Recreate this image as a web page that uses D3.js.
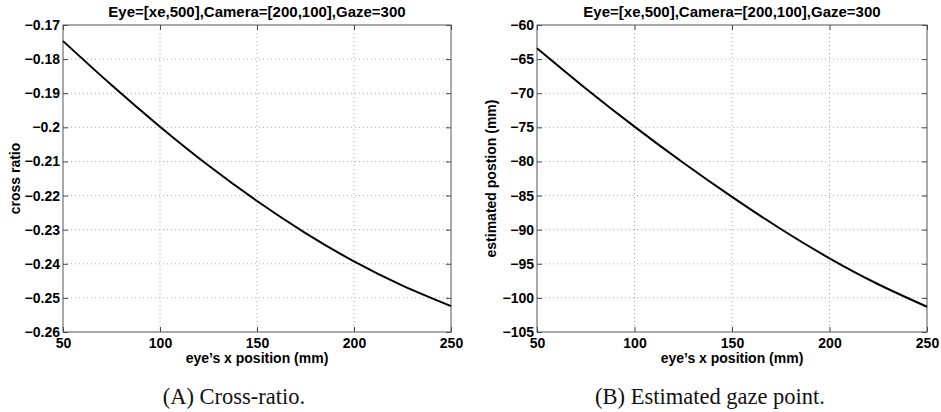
<!DOCTYPE html>
<html>
<head>
<meta charset="utf-8">
<script src="https://cdn.jsdelivr.net/npm/d3@7"></script>
<style>
  body { margin: 0; background: #fff; }
</style>
</head>
<body>
<script>
const width = 941;
const height = 412;

// eye's x position (mm)
const eyeX = [50, 75, 100, 125, 150, 175, 200, 225, 250];
// panel A: cross ratio
const crossRatio = [-0.1747, -0.1876, -0.1998, -0.2112, -0.2216, -0.2310, -0.2393, -0.2464, -0.2524];
// panel B: estimated position (mm)
const gazeEstimate = [-63.4, -69.3, -74.9, -80.2, -85.2, -89.9, -94.2, -98.0, -101.3];

const xTicks = [50, 100, 150, 200, 250];
const crossTicks = [-0.17, -0.18, -0.19, -0.2, -0.21, -0.22, -0.23, -0.24, -0.25, -0.26];
const gazeTicks = [-60, -65, -70, -75, -80, -85, -90, -95, -100, -105];

const title = "Eye=[xe,500],Camera=[200,100],Gaze=300";

const sans = "'Liberation Sans', Arial, Helvetica, sans-serif";
const serif = "'Liberation Serif', 'Times New Roman', serif";

const svg = d3.select("body").append("svg")
  .attr("width", width)
  .attr("height", height);

const fmtMinus = s => s.replace("-", "\u2212");

// bold label text, MATLAB-ish
const boldText = (s, size) => s
  .style("font-family", sans)
  .style("font-size", size + "px")
  .style("font-weight", "bold")
  .attr("fill", "#000");

function drawPanel(opts) {
  const { left, right, top, bottom, yDomain, yTicks, yFormat, values, yLabel, yLabelX, caption, captionX } = opts;

  const x = d3.scaleLinear().domain([50, 250]).range([left, right]);
  const y = d3.scaleLinear().domain(yDomain).range([bottom, top]);

  const g = svg.append("g");

  // dotted grid
  g.append("g").selectAll("line")
    .data(xTicks.slice(1, -1))
    .join("line")
    .attr("x1", d => x(d)).attr("x2", d => x(d))
    .attr("y1", top).attr("y2", bottom)
    .attr("stroke", "#aaa").attr("stroke-width", 1)
    .attr("stroke-dasharray", "1,3");
  g.append("g").selectAll("line")
    .data(yTicks.slice(1, -1))
    .join("line")
    .attr("x1", left).attr("x2", right)
    .attr("y1", d => y(d)).attr("y2", d => y(d))
    .attr("stroke", "#aaa").attr("stroke-width", 1)
    .attr("stroke-dasharray", "1,3");

  // axes: ticks pointing inward
  const axisStyle = a => a.call(s => s.select(".domain").remove())
    .call(s => s.selectAll("line").attr("stroke", "#444"));

  g.append("g").attr("transform", `translate(${left},0)`)
    .call(d3.axisLeft(y).tickValues(yTicks).tickSize(-5).tickFormat(d => fmtMinus(yFormat(d))))
    .call(axisStyle)
    .call(s => s.selectAll("text").attr("x", -3).call(boldText, 14));
  g.append("g").attr("transform", `translate(${right},0)`)
    .call(d3.axisRight(y).tickValues(yTicks).tickSize(-5).tickFormat(""))
    .call(axisStyle);
  g.append("g").attr("transform", `translate(0,${bottom})`)
    .call(d3.axisBottom(x).tickValues(xTicks).tickSize(-5).tickFormat(d3.format("d")))
    .call(axisStyle)
    .call(s => s.selectAll("text").attr("y", 6).call(boldText, 14));
  g.append("g").attr("transform", `translate(0,${top})`)
    .call(d3.axisTop(x).tickValues(xTicks).tickSize(-5).tickFormat(""))
    .call(axisStyle);

  // frame
  g.append("rect")
    .attr("x", left).attr("y", top)
    .attr("width", right - left).attr("height", bottom - top)
    .attr("fill", "none").attr("stroke", "#555").attr("stroke-width", 1);

  // curve
  const line = d3.line()
    .curve(d3.curveNatural)
    .x((d, i) => x(eyeX[i]))
    .y(d => y(d));
  g.append("path")
    .datum(values)
    .attr("d", line)
    .attr("fill", "none")
    .attr("stroke", "#000")
    .attr("stroke-width", 2);

  // title
  g.append("text")
    .attr("x", (left + right) / 2).attr("y", 17)
    .attr("text-anchor", "middle")
    .call(boldText, 15)
    .text(title);

  // axis labels
  g.append("text")
    .attr("x", (left + right) / 2).attr("y", 363)
    .attr("text-anchor", "middle")
    .call(boldText, 14)
    .text("eye\u2019s x position (mm)");
  g.append("text")
    .attr("transform", `translate(${yLabelX},${(top + bottom) / 2}) rotate(-90)`)
    .attr("text-anchor", "middle")
    .call(boldText, 14)
    .text(yLabel);

  // caption
  g.append("text")
    .attr("x", captionX).attr("y", 404)
    .attr("text-anchor", "middle")
    .style("font-family", serif)
    .style("font-size", "22.5px")
    .attr("fill", "#111")
    .text(caption);
}

drawPanel({
  left: 63, right: 451, top: 25, bottom: 332,
  yDomain: [-0.26, -0.17], yTicks: crossTicks,
  yFormat: d => String(+d.toFixed(2)),
  values: crossRatio,
  yLabel: "cross ratio", yLabelX: 20,
  caption: "(A) Cross-ratio.", captionX: 234
});

drawPanel({
  left: 537, right: 927, top: 25, bottom: 332,
  yDomain: [-105, -60], yTicks: gazeTicks,
  yFormat: d => String(d),
  values: gazeEstimate,
  yLabel: "estimated postion (mm)", yLabelX: 496,
  caption: "(B) Estimated gaze point.", captionX: 710
});
</script>
</body>
</html>
